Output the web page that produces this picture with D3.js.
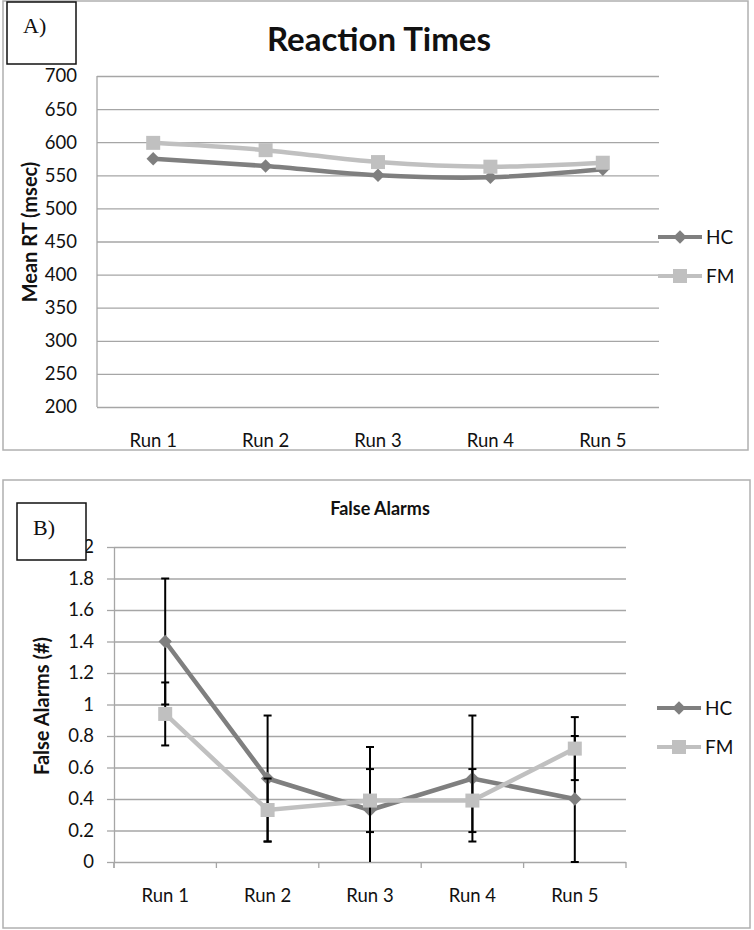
<!DOCTYPE html>
<html>
<head>
<meta charset="utf-8">
<script src="https://cdn.jsdelivr.net/npm/d3@7"></script>
<style>
  html, body { margin: 0; padding: 0; background: #fff; }
  svg { display: block; }
</style>
</head>
<body>
<svg id="chart" width="754" height="930"></svg>
<script>
// ---------- data ----------
const runs = ["Run 1", "Run 2", "Run 3", "Run 4", "Run 5"];
const seriesNames = ["HC", "FM"];

// Panel A: Reaction times (msec)
const rtHC = [575, 564, 550, 547, 559];
const rtFM = [599, 588, 570, 563, 569];
const rtTicks = [200, 250, 300, 350, 400, 450, 500, 550, 600, 650, 700];

// Panel B: False alarms (#)
const faHC = [1.4, 0.53, 0.33, 0.53, 0.4];
const faFM = [0.94, 0.33, 0.39, 0.39, 0.72];
const faHCerr = [0.4, 0.4, 0.4, 0.4, 0.4];
const faFMerr = [0.2, 0.2, 0.2, 0.2, 0.2];
const faTicks = [0, 0.2, 0.4, 0.6, 0.8, 1, 1.2, 1.4, 1.6, 1.8, 2];

// ---------- styles ----------
const colHC = "#7f7f7f", colFM = "#c0c0c0";
const gridCol = "#a6a6a6";
const font = "Lato, 'Open Sans', sans-serif";
const tickFs = 18.5;

const svg = d3.select("#chart");
svg.append("rect").attr("width", 754).attr("height", 930).attr("fill", "#fff");

const diamond = d3.symbol().type(d3.symbolSquare).size(90);
const square = d3.symbol().type(d3.symbolSquare).size(196);

function drawMarkers(g, data, x, y, type, color) {
  g.selectAll(null).data(data).join("path")
    .attr("d", type === "diamond" ? diamond : square)
    .attr("transform", (d, i) => `translate(${x(runs[i]) + x.bandwidth() / 2},${y(d)})` + (type === "diamond" ? " rotate(45)" : ""))
    .attr("fill", color);
}

function legend(g, x0, yHC, yFM) {
  const items = [
    {name: seriesNames[0], y: yHC, color: colHC, type: "diamond"},
    {name: seriesNames[1], y: yFM, color: colFM, type: "square"}
  ];
  items.forEach(it => {
    g.append("line").attr("x1", x0).attr("x2", x0 + 44).attr("y1", it.y).attr("y2", it.y)
      .attr("stroke", it.color).attr("stroke-width", 4);
    g.append("path").attr("d", it.type === "diamond" ? diamond : square)
      .attr("transform", `translate(${x0 + 22},${it.y})` + (it.type === "diamond" ? " rotate(45)" : ""))
      .attr("fill", it.color);
    g.append("text").attr("x", x0 + 48).attr("y", it.y).attr("dy", "0.36em")
      .attr("font-family", font).attr("font-size", 19).attr("fill", "#111").text(it.name);
  });
}

// ================= PANEL A =================
const gA = svg.append("g");
gA.append("rect").attr("x", 3).attr("y", 1).attr("width", 745).attr("height", 449)
  .attr("fill", "none").attr("stroke", "#b0b0b0").attr("stroke-width", 1.5);

const xA = d3.scaleBand().domain(runs).range([97, 659]);
const yA = d3.scaleLinear().domain([200, 700]).range([407, 76]);

// gridlines + y labels
const axA = gA.append("g").attr("transform", "translate(97,0)")
  .call(d3.axisLeft(yA).tickValues(rtTicks).tickSize(-(659 - 97)).tickPadding(20));
axA.select(".domain").remove();
axA.selectAll(".tick line").attr("stroke", gridCol).attr("stroke-width", 1.3);
axA.selectAll(".tick text").attr("font-family", font).attr("font-size", tickFs).attr("fill", "#111");
// left axis line
gA.append("line").attr("x1", 97).attr("x2", 97).attr("y1", 76).attr("y2", 407)
  .attr("stroke", gridCol).attr("stroke-width", 1.3);

// x labels
const axAx = gA.append("g").attr("transform", "translate(0,407)")
  .call(d3.axisBottom(xA).tickSize(0));
axAx.select(".domain").remove();
axAx.selectAll(".tick text").attr("font-family", font).attr("font-size", tickFs).attr("fill", "#111")
  .attr("y", 40).attr("dy", 0);

// lines (smoothed)
const lineA = d3.line().x((d, i) => xA(runs[i]) + xA.bandwidth() / 2).y(d => yA(d)).curve(d3.curveCardinal.tension(0));
gA.append("path").datum(rtHC).attr("d", lineA).attr("fill", "none").attr("stroke", colHC).attr("stroke-width", 4.5);
drawMarkers(gA, rtHC, xA, yA, "diamond", colHC);
gA.append("path").datum(rtFM).attr("d", lineA).attr("fill", "none").attr("stroke", colFM).attr("stroke-width", 4.5);
drawMarkers(gA, rtFM, xA, yA, "square", colFM);

// title & axis title
gA.append("text").attr("x", 379).attr("y", 51).attr("text-anchor", "middle")
  .attr("font-family", font).attr("font-weight", "bold").attr("font-size", 33).attr("fill", "#111")
  .text("Reaction Times");
gA.append("text").attr("transform", "translate(30,232) rotate(-90)").attr("dy", "0.35em")
  .attr("text-anchor", "middle").attr("font-family", font).attr("font-weight", "bold")
  .attr("font-size", 20).attr("fill", "#111").text("Mean RT (msec)");

legend(gA, 658, 237, 276);

// label box
gA.append("rect").attr("x", 7).attr("y", 2).attr("width", 69).attr("height", 62)
  .attr("fill", "#fff").attr("stroke", "#111").attr("stroke-width", 1.5);
gA.append("text").attr("x", 23).attr("y", 33).attr("font-family", "'Liberation Serif', serif")
  .attr("font-size", 22).attr("fill", "#111").text("A)");

// ================= PANEL B =================
const gB = svg.append("g");
gB.append("rect").attr("x", 3).attr("y", 480).attr("width", 747).attr("height", 448)
  .attr("fill", "none").attr("stroke", "#b0b0b0").attr("stroke-width", 1.5);

const xB = d3.scaleBand().domain(runs).range([114, 626]);
const yB = d3.scaleLinear().domain([0, 2]).range([862, 547]);

// gridlines
const gridB = gB.append("g").attr("transform", "translate(114,0)")
  .call(d3.axisLeft(yB).tickValues(faTicks).tickSize(-(626 - 114)).tickFormat(""));
gridB.select(".domain").remove();
gridB.selectAll(".tick line").attr("stroke", gridCol).attr("stroke-width", 1.3);
// y axis with outward ticks and labels
const axB = gB.append("g").attr("transform", "translate(114,0)")
  .call(d3.axisLeft(yB).tickValues(faTicks).tickFormat(d => String(d))
    .tickSizeInner(7).tickSizeOuter(0).tickPadding(13));
axB.select(".domain").attr("stroke", gridCol).attr("stroke-width", 1.3);
axB.selectAll(".tick line").attr("stroke", gridCol).attr("stroke-width", 1.3);
axB.selectAll(".tick text").attr("font-family", font).attr("font-size", tickFs).attr("fill", "#111");
// extend y axis below 0
gB.append("line").attr("x1", 114).attr("x2", 114).attr("y1", 862).attr("y2", 868)
  .attr("stroke", gridCol).attr("stroke-width", 1.3);

// x axis: category boundary ticks
const xBounds = runs.map(r => xB(r)).concat([xB(runs[runs.length - 1]) + xB.bandwidth()]);
gB.selectAll(null).data(xBounds).join("line")
  .attr("x1", d => d).attr("x2", d => d).attr("y1", 862).attr("y2", 868)
  .attr("stroke", gridCol).attr("stroke-width", 1.3);
const axBx = gB.append("g").attr("transform", "translate(0,862)")
  .call(d3.axisBottom(xB).tickSize(0));
axBx.select(".domain").remove();
axBx.selectAll(".tick text").attr("font-family", font).attr("font-size", tickFs).attr("fill", "#111")
  .attr("y", 40).attr("dy", 0);

// lines
const lineB = d3.line().x((d, i) => xB(runs[i]) + xB.bandwidth() / 2).y(d => yB(d));
const cx = i => xB(runs[i]) + xB.bandwidth() / 2;

function errorBars(g, vals, errs) {
  vals.forEach((v, i) => {
    const lo = Math.max(0, v - errs[i]), hi = Math.min(2, v + errs[i]);
    g.append("line").attr("x1", cx(i)).attr("x2", cx(i)).attr("y1", yB(lo)).attr("y2", yB(hi))
      .attr("stroke", "#000").attr("stroke-width", 2);
    [v - errs[i], v + errs[i]].forEach(e => {
      if (e >= -0.001 && e <= 2) {
        g.append("line").attr("x1", cx(i) - 4).attr("x2", cx(i) + 4).attr("y1", yB(Math.max(0, e))).attr("y2", yB(Math.max(0, e)))
          .attr("stroke", "#000").attr("stroke-width", 2);
      }
    });
  });
}

gB.append("path").datum(faHC).attr("d", lineB).attr("fill", "none").attr("stroke", colHC).attr("stroke-width", 4.5);
errorBars(gB, faHC, faHCerr);
drawMarkers(gB, faHC, xB, yB, "diamond", colHC);
gB.append("path").datum(faFM).attr("d", lineB).attr("fill", "none").attr("stroke", colFM).attr("stroke-width", 4.5);
errorBars(gB, faFM, faFMerr);
drawMarkers(gB, faFM, xB, yB, "square", colFM);

// title & axis title
gB.append("text").attr("x", 380).attr("y", 515).attr("text-anchor", "middle")
  .attr("font-family", font).attr("font-weight", "bold").attr("font-size", 18).attr("fill", "#111")
  .text("False Alarms");
gB.append("text").attr("transform", "translate(42,706) rotate(-90)").attr("dy", "0.35em")
  .attr("text-anchor", "middle").attr("font-family", font).attr("font-weight", "bold")
  .attr("font-size", 20).attr("fill", "#111").text("False Alarms (#)");

legend(gB, 657, 708, 747);

// label box (drawn over the "2" tick label as in the reference)
gB.append("rect").attr("x", 17).attr("y", 503).attr("width", 69).attr("height", 57)
  .attr("fill", "#fff").attr("stroke", "#111").attr("stroke-width", 1.5);
gB.append("text").attr("x", 33).attr("y", 535).attr("font-family", "'Liberation Serif', serif")
  .attr("font-size", 22).attr("fill", "#111").text("B)");
</script>
</body>
</html>
